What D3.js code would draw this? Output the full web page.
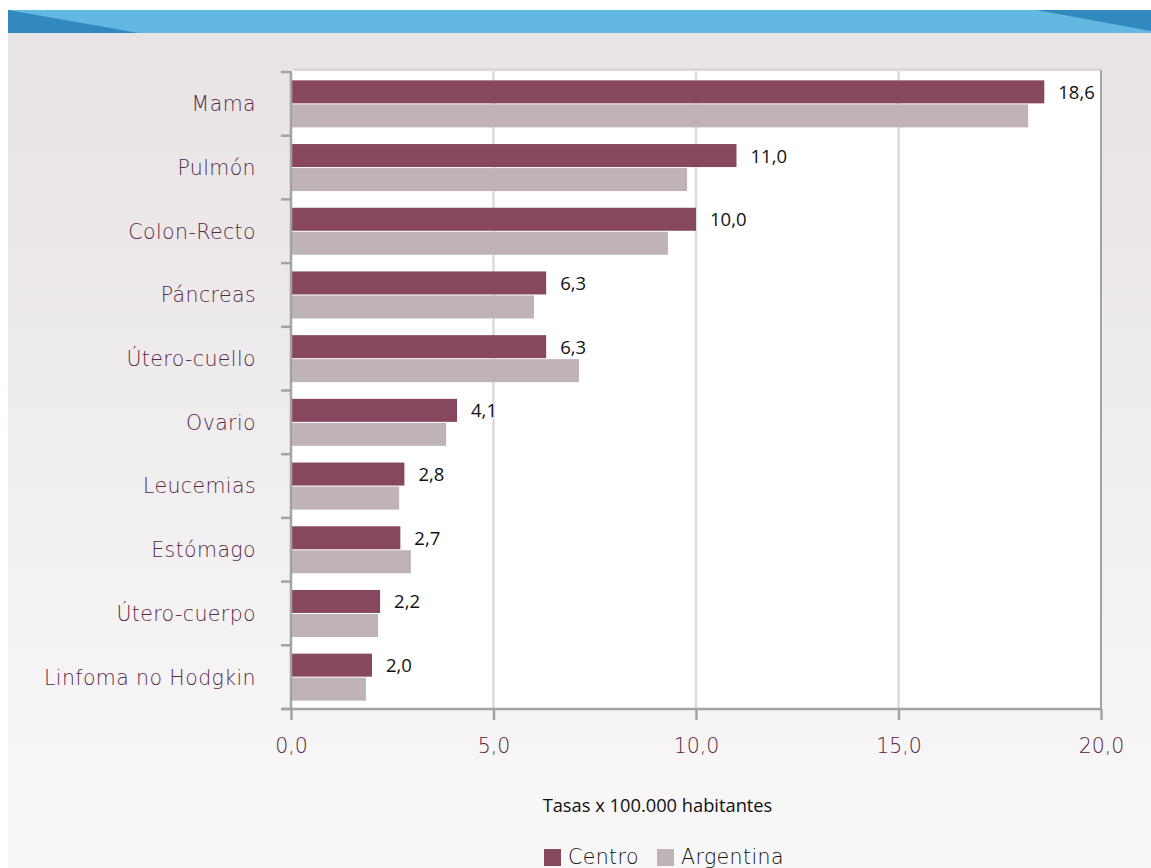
<!DOCTYPE html>
<html><head><meta charset="utf-8">
<script src="https://cdn.jsdelivr.net/npm/d3@7"></script>
<style>body{margin:0;background:#fff;overflow:hidden}</style>
</head><body><svg id="c" width="1151" height="868"></svg>
<script>
const categories = ["Mama","Pulmón","Colon-Recto","Páncreas","Útero-cuello","Ovario","Leucemias","Estómago","Útero-cuerpo","Linfoma no Hodgkin"];
const centro = [18.6,11.0,10.0,6.3,6.3,4.1,2.8,2.7,2.2,2.0];
const argentina = [18.2,9.78,9.31,6.0,7.11,3.83,2.67,2.96,2.15,1.85];
const xTicks = [0,5,10,15,20];
const seriesNames = ["Centro","Argentina"];
const seriesColors = ["#87485f","#bfb3b8"];

const svg = d3.select("#c");
const defs = svg.append("defs");
const grad = defs.append("linearGradient").attr("id","bg").attr("x1",0).attr("y1",0).attr("x2",0).attr("y2",1);
grad.append("stop").attr("offset","0%").attr("stop-color","#e8e3e5");
grad.append("stop").attr("offset","100%").attr("stop-color","#f9f8f9");

svg.append("rect").attr("width",1151).attr("height",868).attr("fill","#fff");
svg.append("rect").attr("x",8).attr("y",33).attr("width",1143).attr("height",835).attr("fill","url(#bg)");
// banner
svg.append("rect").attr("x",8).attr("y",10).attr("width",1143).attr("height",23).attr("fill","#63b8e2");
svg.append("path").attr("d","M8,10 L8,33 L139,33 Z").attr("fill","#3189bd");
svg.append("path").attr("d","M1036,10 L1151,10 L1151,31 Z").attr("fill","#3189bd");

const x = d3.scaleLinear().domain([0,20]).range([291,1101]);
const y = d3.scaleBand().domain(categories).range([72,709]);
const bw = y.bandwidth();
const barH = 23;

// plot area
svg.append("rect").attr("x",x(0)).attr("y",70).attr("width",x(20)-x(0)).attr("height",709-70).attr("fill","#fff");
svg.append("line").attr("x1",x(0)+2).attr("x2",x(20)).attr("y1",69.5).attr("y2",69.5).attr("stroke","#d9d9d9").attr("stroke-width",3);

// gridlines
svg.append("g").selectAll("line").data(xTicks.slice(1,-1)).join("line")
  .attr("x1",d=>x(d)).attr("x2",d=>x(d)).attr("y1",71).attr("y2",709)
  .attr("stroke","#dcdcdc").attr("stroke-width",2.5);
// right border
svg.append("line").attr("x1",x(20)).attr("x2",x(20)).attr("y1",70).attr("y2",709).attr("stroke","#a3a3a3").attr("stroke-width",2);

// bars
const g = svg.append("g");
g.selectAll("rect.c").data(categories).join("rect").attr("class","c")
  .attr("x",x(0)).attr("y",d=>y(d)+bw/2-barH-0.5).attr("height",barH)
  .attr("width",(d,i)=>x(centro[i])-x(0)).attr("fill",seriesColors[0]);
g.selectAll("rect.a").data(categories).join("rect").attr("class","a")
  .attr("x",x(0)).attr("y",d=>y(d)+bw/2+0.5).attr("height",barH)
  .attr("width",(d,i)=>x(argentina[i])-x(0)).attr("fill",seriesColors[1]);

// value labels
const fmt = v => d3.format(".1f")(v).replace(".",",");
g.selectAll("text.v").data(categories).join("text").attr("class","v")
  .attr("x",(d,i)=>x(centro[i])+14).attr("y",d=>y(d)+bw/2-barH/2)
  .attr("dy","0.35em").attr("font-family","'Open Sans',sans-serif").attr("font-size",18.5)
  .attr("fill","#111").text((d,i)=>fmt(centro[i]));

// left axis
const ag = svg.append("g");
ag.append("line").attr("x1",x(0)).attr("x2",x(0)).attr("y1",71).attr("y2",709).attr("stroke","#a3a3a3").attr("stroke-width",2.5);
const bounds = categories.map(c=>y(c)).concat([709]);
ag.selectAll("line.t").data(bounds).join("line").attr("class","t")
  .attr("x1",281).attr("x2",x(0)).attr("y1",d=>d).attr("y2",d=>d).attr("stroke","#a3a3a3").attr("stroke-width",2.5);
ag.selectAll("text.cat").data(categories).join("text").attr("class","cat")
  .attr("x",256).attr("y",d=>y(d)+bw/2).attr("dy","0.36em").attr("text-anchor","end")
  .attr("font-family","'DejaVu Sans',sans-serif").attr("font-size",20.5).attr("font-weight",300)
  .attr("letter-spacing","0.4px").attr("fill","#552a45").text(d=>d);

// bottom axis
const xAxis = d3.axisBottom(x).tickValues(xTicks).tickSize(11).tickSizeOuter(0).tickFormat(fmt);
const xg = svg.append("g").attr("transform","translate(0,709)").call(xAxis);
xg.select(".domain").attr("d",`M281,0H${x(20)}`).attr("stroke","#a3a3a3").attr("stroke-width",2.5);
xg.selectAll(".tick line").attr("stroke","#a3a3a3").attr("stroke-width",2.5);
xg.selectAll(".tick text").attr("y",29).attr("dy","0.71em").attr("font-family","'DejaVu Sans',sans-serif")
  .attr("font-size",20.5).attr("font-weight",300).attr("fill","#55213d");

// axis title
svg.append("text").attr("x",657.5).attr("y",811.5).attr("text-anchor","middle")
  .attr("font-family","'Open Sans',sans-serif").attr("font-size",18.3).attr("fill","#111")
  .text("Tasas x 100.000 habitantes");

// legend
const legX = [544,657];
const lg = svg.append("g");
lg.selectAll("rect").data(seriesNames).join("rect")
  .attr("x",(d,i)=>legX[i]).attr("y",849).attr("width",17).attr("height",17).attr("fill",(d,i)=>seriesColors[i]);
lg.selectAll("text").data(seriesNames).join("text")
  .attr("x",(d,i)=>legX[i]+24).attr("y",863.5)
  .attr("font-family","'DejaVu Sans',sans-serif").attr("font-size",20.5).attr("font-weight",300)
  .attr("letter-spacing","0.4px").attr("fill","#111").text(d=>d);
</script></body></html>
